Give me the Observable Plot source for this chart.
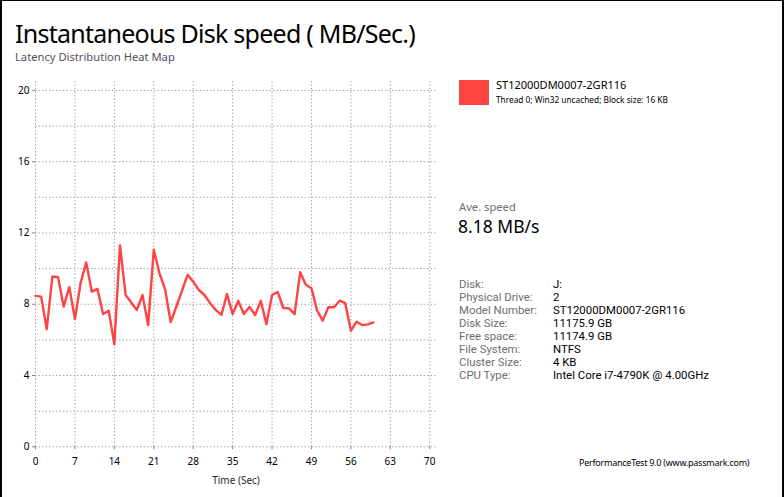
<!DOCTYPE html>
<html><head><meta charset="utf-8">
<script src="https://cdn.jsdelivr.net/npm/d3@7"></script>
<script src="https://cdn.jsdelivr.net/npm/@observablehq/plot@0.6"></script>
<style>
html,body{margin:0;padding:0;background:#fff;}
body{font-family:"Noto Sans","Open Sans",sans-serif;}
#page{position:relative;width:784px;height:497px;overflow:hidden;background:#fff;}
#border{position:absolute;left:0;top:0;width:784px;height:497px;box-sizing:border-box;border-left:2px solid #000;border-top:1px solid #000;border-right:2px solid #000;pointer-events:none;}
.abs{position:absolute;white-space:nowrap;}
#title{left:15px;top:19px;font-size:25px;line-height:28px;letter-spacing:-0.75px;color:#000;}
#subtitle{left:15px;top:50px;font-size:11.2px;line-height:14px;color:#5a4e66;}
#chart{position:absolute;left:0;top:70px;}
#xlabel{left:186px;width:100px;text-align:center;top:473px;font-size:10px;line-height:14px;color:#2c2233;}
#swatch{left:459px;top:80px;width:30px;height:25px;background:#ff4242;}
#drive{left:496px;top:78px;font-size:11px;line-height:14px;color:#000;}
#thread{left:496px;top:94px;font-size:8.3px;line-height:11px;color:#000;}
#avelabel{left:459px;top:199px;font-size:11.2px;line-height:16px;color:#707070;}
#aveval{left:458px;top:215px;font-size:17.5px;line-height:22px;color:#000;}
.row{position:absolute;white-space:nowrap;font-family:Roboto,"Noto Sans",sans-serif;font-size:11.4px;line-height:13px;height:13px;}
.k{left:459px;color:#6e6e6e;}
.v{left:553px;color:#000;}
#footer{left:579px;top:456px;font-size:9px;line-height:13px;letter-spacing:-0.25px;color:#000;}
</style>
</head><body>
<div id="page">
  <div id="title" class="abs">Instantaneous Disk speed ( MB/Sec.)</div>
  <div id="subtitle" class="abs">Latency Distribution Heat Map</div>
  <div id="chart"></div>
  <div id="xlabel" class="abs">Time (Sec)</div>
  <div id="swatch" class="abs"></div>
  <div id="drive" class="abs">ST12000DM0007-2GR116</div>
  <div id="thread" class="abs">Thread 0; Win32 uncached; Block size: 16 KB</div>
  <div id="avelabel" class="abs">Ave. speed</div>
  <div id="aveval" class="abs">8.18 MB/s</div>
  <div id="info"></div>
  <div id="footer" class="abs">PerformanceTest 9.0 (www.passmark.com)</div>
  <div id="border"></div>
</div>
<script>
// ---- data ----
const seconds = [0,1,2,3,4,5,6,7,8,9,10,11,12,13,14,15,16,17,18,19,20,21,22,23,24,25,26,27,28,29,30,31,32,33,34,35,36,37,38,39,40,41,42,43,44,45,46,47,48,49,50,51,52,53,54,55,56,57,58,59,60];
const speed = [8.47,8.43,6.6,9.56,9.52,7.87,8.96,7.17,9.18,10.35,8.71,8.86,7.45,7.64,5.75,11.3,8.52,8.1,7.68,8.52,6.83,11.06,9.75,8.85,7.0,7.86,8.75,9.65,9.27,8.8,8.52,8.06,7.68,7.4,8.57,7.45,8.19,7.45,7.85,7.4,8.19,6.88,8.52,8.69,7.79,7.77,7.45,9.8,9.09,8.9,7.64,7.08,7.83,7.83,8.2,8.06,6.51,7.02,6.83,6.87,6.98];
const xTicks = [0,7,14,21,28,35,42,49,56,63,70];
const yTicks = [0,4,8,12,16,20];
const yGrid = [0,2,4,6,8,10,12,14,16,18,20];
const infoLabels = ["Disk:","Physical Drive:","Model Number:","Disk Size:","Free space:","File System:","Cluster Size:","CPU Type:"];
const infoValues = ["J:","2","ST12000DM0007-2GR116","11175.9 GB","11174.9 GB","NTFS","4 KB","Intel Core i7-4790K @ 4.00GHz"];

const rows = seconds.map((t, i) => ({t, v: speed[i]}));
const gridColor = "#a8a8a8";

const plot = Plot.plot({
  width: 450,
  height: 425,
  marginLeft: 35,
  marginRight: 12.3,
  marginTop: 11,
  marginBottom: 48.7,
  style: {fontFamily: "'Noto Sans','Open Sans',sans-serif", fontSize: "10px", color: "#000", background: "transparent", overflow: "visible"},
  x: {domain: [0, 71.5]},
  y: {domain: [0, 20.5]},
  marks: [
    Plot.ruleY(yGrid, {y: d => d, stroke: gridColor, strokeDasharray: "1.5,2", strokeWidth: 1}),
    Plot.ruleX(xTicks, {x: d => d, stroke: gridColor, strokeDasharray: "1.5,2", strokeWidth: 1}),
    Plot.axisX({ticks: xTicks, tickSize: 3, tickPadding: 8, stroke: "#888", fill: "#000", label: null, tickFormat: d => String(d)}),
    Plot.axisY({ticks: yTicks, tickSize: 3, tickPadding: 3, stroke: "#888", fill: "#000", label: null, tickFormat: d => String(d)}),
    Plot.lineY(rows, {x: "t", y: "v", stroke: "#ff3838", strokeWidth: 2.4, strokeOpacity: 0.95, strokeLinejoin: "round"})
  ]
});
document.getElementById("chart").appendChild(plot);

const info = document.getElementById("info");
infoLabels.forEach((k, i) => {
  const top = 277.5 + i * 13;
  const a = document.createElement("div"); a.className = "row k"; a.style.top = top + "px"; a.textContent = k;
  const b = document.createElement("div"); b.className = "row v"; b.style.top = top + "px"; b.textContent = infoValues[i];
  info.appendChild(a); info.appendChild(b);
});
</script>
</body></html>
